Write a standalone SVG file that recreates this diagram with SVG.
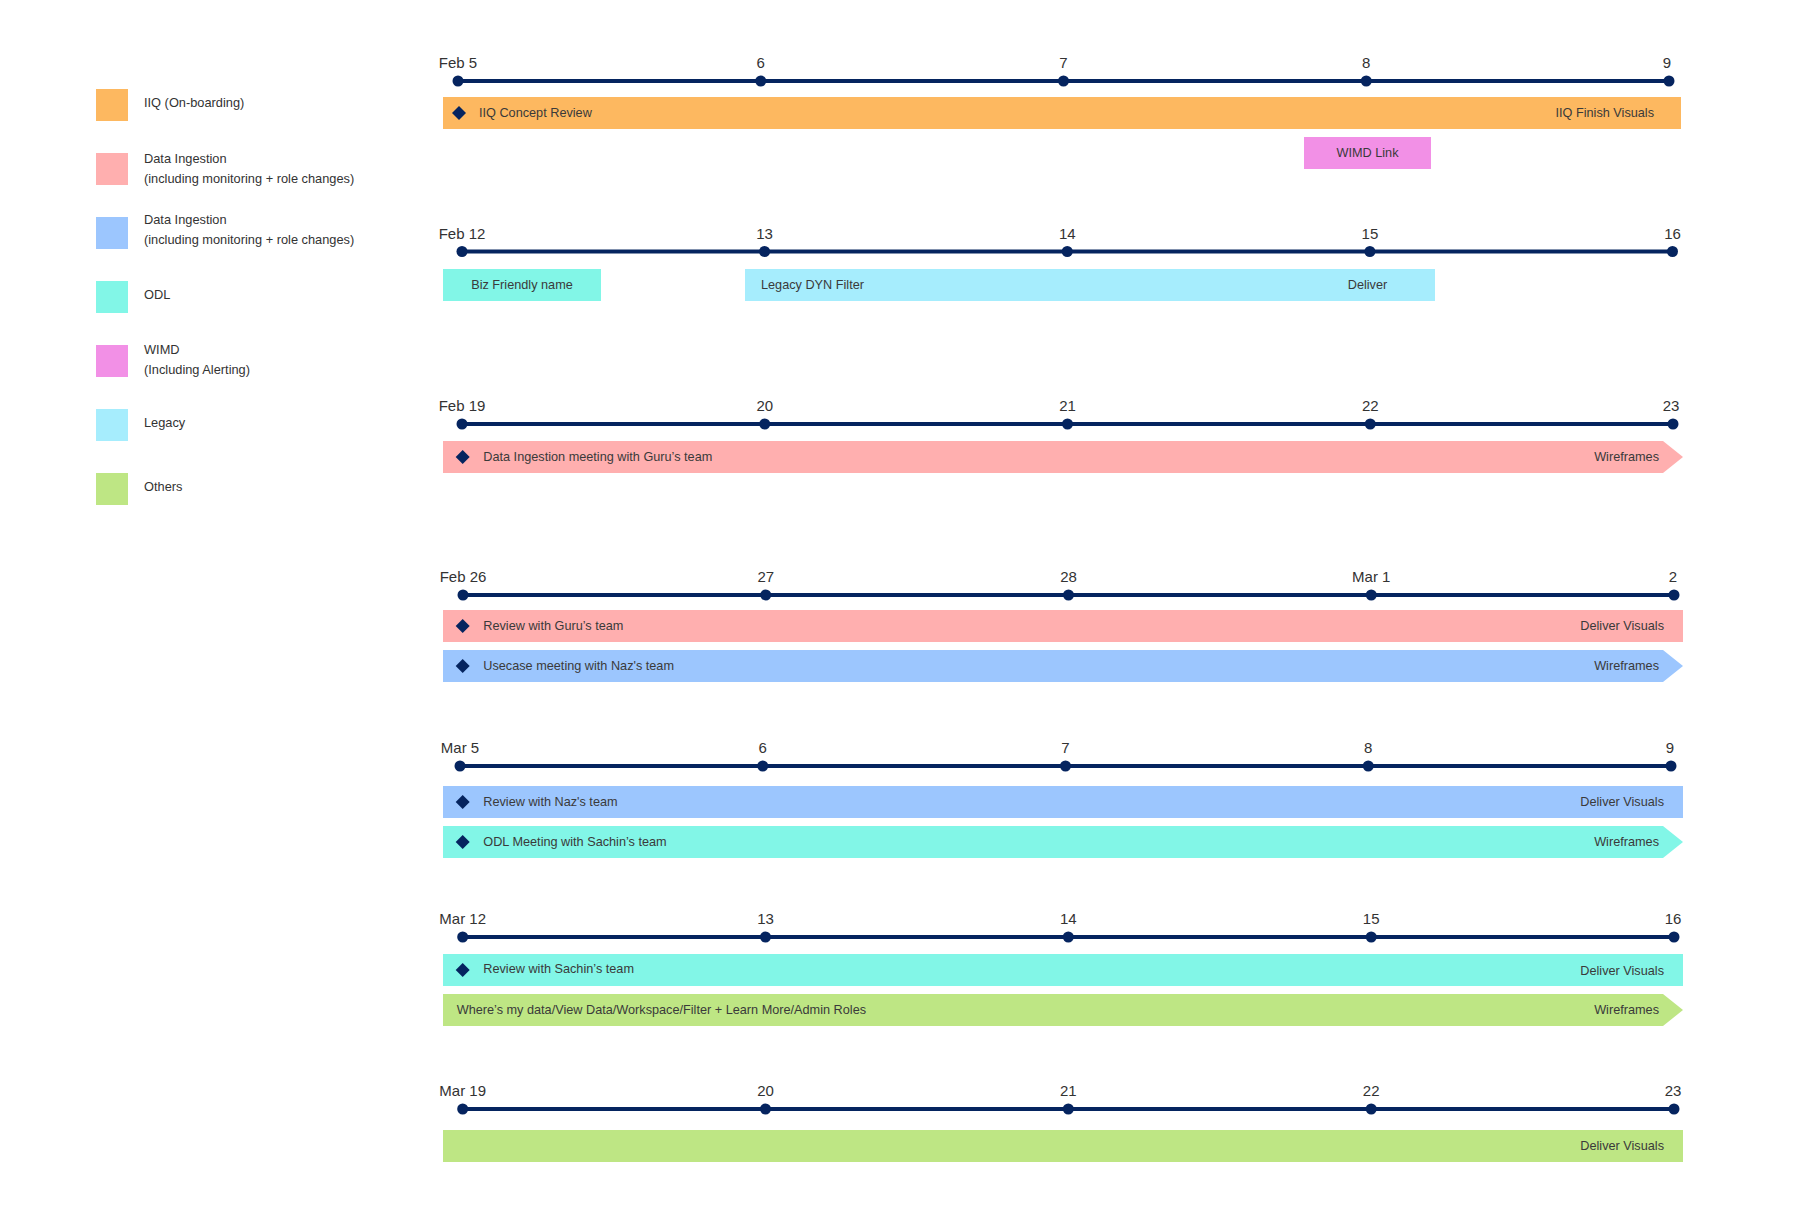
<svg xmlns="http://www.w3.org/2000/svg" width="1794" height="1228" viewBox="0 0 1794 1228">
<style>
text{font-family:"Liberation Sans",Arial,sans-serif;fill:#333;}
.lg{font-size:12.8px;}
.bt{font-size:12.7px;fill:#3a3a3a;}
.dl{font-size:15px;text-anchor:middle;fill:#333;}
.mid{text-anchor:middle;}
.end{text-anchor:end;}
.ax{stroke:#05245f;stroke-width:4;fill:none;}
.dot{fill:#05245f;}
.dia{fill:#05245f;}
.c-iiq{fill:#FDB860;}
.c-di1{fill:#FFAFAF;}
.c-di2{fill:#9CC6FE;}
.c-odl{fill:#82F6E7;}
.c-wimd{fill:#F290E6;}
.c-leg{fill:#A6EDFD;}
.c-oth{fill:#BEE684;}
</style>
<rect width="1794" height="1228" fill="#ffffff"/>

<g id="legend">
  <g id="legend-iiq"><rect class="c-iiq" x="96" y="89" width="32" height="32"/><text class="lg" x="144" y="107">IIQ (On-boarding)</text></g>
  <g id="legend-di-pink"><rect class="c-di1" x="96" y="153" width="32" height="32"/><text class="lg" x="144" y="163">Data Ingestion</text><text class="lg" x="144" y="183">(including monitoring + role changes)</text></g>
  <g id="legend-di-blue"><rect class="c-di2" x="96" y="217" width="32" height="32"/><text class="lg" x="144" y="224">Data Ingestion</text><text class="lg" x="144" y="244">(including monitoring + role changes)</text></g>
  <g id="legend-odl"><rect class="c-odl" x="96" y="281" width="32" height="32"/><text class="lg" x="144" y="299">ODL</text></g>
  <g id="legend-wimd"><rect class="c-wimd" x="96" y="345" width="32" height="32"/><text class="lg" x="144" y="354">WIMD</text><text class="lg" x="144" y="374">(Including Alerting)</text></g>
  <g id="legend-legacy"><rect class="c-leg" x="96" y="409" width="32" height="32"/><text class="lg" x="144" y="427">Legacy</text></g>
  <g id="legend-others"><rect class="c-oth" x="96" y="473" width="32" height="32"/><text class="lg" x="144" y="491">Others</text></g>
</g>

<g id="connectors">
  <line class="ax" x1="458" y1="81" x2="1669" y2="81"/>
  <line class="ax" x1="462" y1="251.5" x2="1672.5" y2="251.5"/>
  <line class="ax" x1="462" y1="424" x2="1673" y2="424"/>
  <line class="ax" x1="463" y1="595" x2="1674" y2="595"/>
  <line class="ax" x1="460" y1="766" x2="1671" y2="766"/>
  <line class="ax" x1="462.7" y1="937" x2="1674" y2="937"/>
  <line class="ax" x1="462.7" y1="1109" x2="1674" y2="1109"/>
</g>

<g id="week-feb5">
  <circle class="dot" cx="458" cy="81" r="5.5"/><circle class="dot" cx="760.75" cy="81" r="5.5"/><circle class="dot" cx="1063.5" cy="81" r="5.5"/><circle class="dot" cx="1366.25" cy="81" r="5.5"/><circle class="dot" cx="1669" cy="81" r="5.5"/>
  <text class="dl" x="458" y="68.3">Feb 5</text><text class="dl" x="760.75" y="68.3">6</text><text class="dl" x="1063.5" y="68.3">7</text><text class="dl" x="1366.25" y="68.3">8</text><text class="dl" x="1667" y="68.3">9</text>
</g>
<g id="bar-iiq">
  <rect class="c-iiq" x="443" y="97" width="1238" height="32"/>
  <polygon class="dia" points="459,106 466,113 459,120 452,113"/>
  <text class="bt" x="479" y="117">IIQ Concept Review</text>
  <text class="bt end" x="1654" y="117">IIQ Finish Visuals</text>
</g>
<g id="bar-wimd-link">
  <rect class="c-wimd" x="1304" y="137" width="127" height="32"/>
  <text class="bt mid" x="1367.5" y="157">WIMD Link</text>
</g>

<g id="week-feb12">
  <circle class="dot" cx="462" cy="251.5" r="5.5"/><circle class="dot" cx="764.6" cy="251.5" r="5.5"/><circle class="dot" cx="1067.25" cy="251.5" r="5.5"/><circle class="dot" cx="1369.9" cy="251.5" r="5.5"/><circle class="dot" cx="1672.5" cy="251.5" r="5.5"/>
  <text class="dl" x="462" y="239">Feb 12</text><text class="dl" x="764.6" y="239">13</text><text class="dl" x="1067.25" y="239">14</text><text class="dl" x="1369.9" y="239">15</text><text class="dl" x="1672.5" y="239">16</text>
</g>
<g id="bar-biz-friendly">
  <rect class="c-odl" x="443" y="269" width="158" height="32"/>
  <text class="bt mid" x="522" y="289">Biz Friendly name</text>
</g>
<g id="bar-legacy-dyn">
  <rect class="c-leg" x="745" y="269" width="690" height="32"/>
  <text class="bt" x="761" y="289">Legacy DYN Filter</text>
  <text class="bt mid" x="1367.5" y="289">Deliver</text>
</g>

<g id="week-feb19">
  <circle class="dot" cx="462" cy="424" r="5.5"/><circle class="dot" cx="764.75" cy="424" r="5.5"/><circle class="dot" cx="1067.5" cy="424" r="5.5"/><circle class="dot" cx="1370.25" cy="424" r="5.5"/><circle class="dot" cx="1673" cy="424" r="5.5"/>
  <text class="dl" x="462" y="411.3">Feb 19</text><text class="dl" x="764.75" y="411.3">20</text><text class="dl" x="1067.5" y="411.3">21</text><text class="dl" x="1370.25" y="411.3">22</text><text class="dl" x="1671" y="411.3">23</text>
</g>
<g id="bar-di-guru-meeting">
  <polygon class="c-di1" points="443,441 1663,441 1683,457 1663,473 443,473"/>
  <polygon class="dia" points="462.7,450 469.7,457 462.7,464 455.7,457"/>
  <text class="bt" x="483.3" y="461">Data Ingestion meeting with Guru’s team</text>
  <text class="bt end" x="1659" y="461">Wireframes</text>
</g>

<g id="week-feb26">
  <circle class="dot" cx="463" cy="595" r="5.5"/><circle class="dot" cx="765.75" cy="595" r="5.5"/><circle class="dot" cx="1068.5" cy="595" r="5.5"/><circle class="dot" cx="1371.25" cy="595" r="5.5"/><circle class="dot" cx="1674" cy="595" r="5.5"/>
  <text class="dl" x="463" y="582.3">Feb 26</text><text class="dl" x="765.75" y="582.3">27</text><text class="dl" x="1068.5" y="582.3">28</text><text class="dl" x="1371.25" y="582.3">Mar 1</text><text class="dl" x="1673" y="582.3">2</text>
</g>
<g id="bar-review-guru">
  <rect class="c-di1" x="443" y="610" width="1240" height="32"/>
  <polygon class="dia" points="462.7,619 469.7,626 462.7,633 455.7,626"/>
  <text class="bt" x="483.3" y="630">Review with Guru’s team</text>
  <text class="bt end" x="1664" y="630">Deliver Visuals</text>
</g>
<g id="bar-usecase-naz">
  <polygon class="c-di2" points="443,650 1663,650 1683,666 1663,682 443,682"/>
  <polygon class="dia" points="462.7,659 469.7,666 462.7,673 455.7,666"/>
  <text class="bt" x="483.3" y="670">Usecase meeting with Naz's team</text>
  <text class="bt end" x="1659" y="670">Wireframes</text>
</g>

<g id="week-mar5">
  <circle class="dot" cx="460" cy="766" r="5.5"/><circle class="dot" cx="762.75" cy="766" r="5.5"/><circle class="dot" cx="1065.5" cy="766" r="5.5"/><circle class="dot" cx="1368.25" cy="766" r="5.5"/><circle class="dot" cx="1671" cy="766" r="5.5"/>
  <text class="dl" x="460" y="753.3">Mar 5</text><text class="dl" x="762.75" y="753.3">6</text><text class="dl" x="1065.5" y="753.3">7</text><text class="dl" x="1368.25" y="753.3">8</text><text class="dl" x="1670" y="753.3">9</text>
</g>
<g id="bar-review-naz">
  <rect class="c-di2" x="443" y="786" width="1240" height="32"/>
  <polygon class="dia" points="462.7,795 469.7,802 462.7,809 455.7,802"/>
  <text class="bt" x="483.3" y="806">Review with Naz's team</text>
  <text class="bt end" x="1664" y="806">Deliver Visuals</text>
</g>
<g id="bar-odl-sachin">
  <polygon class="c-odl" points="443,826 1663,826 1683,842 1663,858 443,858"/>
  <polygon class="dia" points="462.7,835 469.7,842 462.7,849 455.7,842"/>
  <text class="bt" x="483.3" y="846">ODL Meeting with Sachin’s team</text>
  <text class="bt end" x="1659" y="846">Wireframes</text>
</g>

<g id="week-mar12">
  <circle class="dot" cx="462.7" cy="937" r="5.5"/><circle class="dot" cx="765.5" cy="937" r="5.5"/><circle class="dot" cx="1068.3" cy="937" r="5.5"/><circle class="dot" cx="1371.2" cy="937" r="5.5"/><circle class="dot" cx="1674" cy="937" r="5.5"/>
  <text class="dl" x="462.7" y="924.3">Mar 12</text><text class="dl" x="765.5" y="924.3">13</text><text class="dl" x="1068.3" y="924.3">14</text><text class="dl" x="1371.2" y="924.3">15</text><text class="dl" x="1673" y="924.3">16</text>
</g>
<g id="bar-review-sachin">
  <rect class="c-odl" x="443" y="954" width="1240" height="32"/>
  <polygon class="dia" points="462.7,963 469.7,970 462.7,977 455.7,970"/>
  <text class="bt" x="483.3" y="973">Review with Sachin’s team</text>
  <text class="bt end" x="1664" y="975">Deliver Visuals</text>
</g>
<g id="bar-wheres-my-data">
  <polygon class="c-oth" points="443,994 1663,994 1683,1010 1663,1026 443,1026"/>
  <text class="bt" x="456.7" y="1014">Where’s my data/View Data/Workspace/Filter + Learn More/Admin Roles</text>
  <text class="bt end" x="1659" y="1014">Wireframes</text>
</g>

<g id="week-mar19">
  <circle class="dot" cx="462.7" cy="1109" r="5.5"/><circle class="dot" cx="765.5" cy="1109" r="5.5"/><circle class="dot" cx="1068.3" cy="1109" r="5.5"/><circle class="dot" cx="1371.2" cy="1109" r="5.5"/><circle class="dot" cx="1674" cy="1109" r="5.5"/>
  <text class="dl" x="462.7" y="1096.3">Mar 19</text><text class="dl" x="765.5" y="1096.3">20</text><text class="dl" x="1068.3" y="1096.3">21</text><text class="dl" x="1371.2" y="1096.3">22</text><text class="dl" x="1673" y="1096.3">23</text>
</g>
<g id="bar-deliver-final">
  <rect class="c-oth" x="443" y="1130" width="1240" height="32"/>
  <text class="bt end" x="1664" y="1150">Deliver Visuals</text>
</g>
</svg>
